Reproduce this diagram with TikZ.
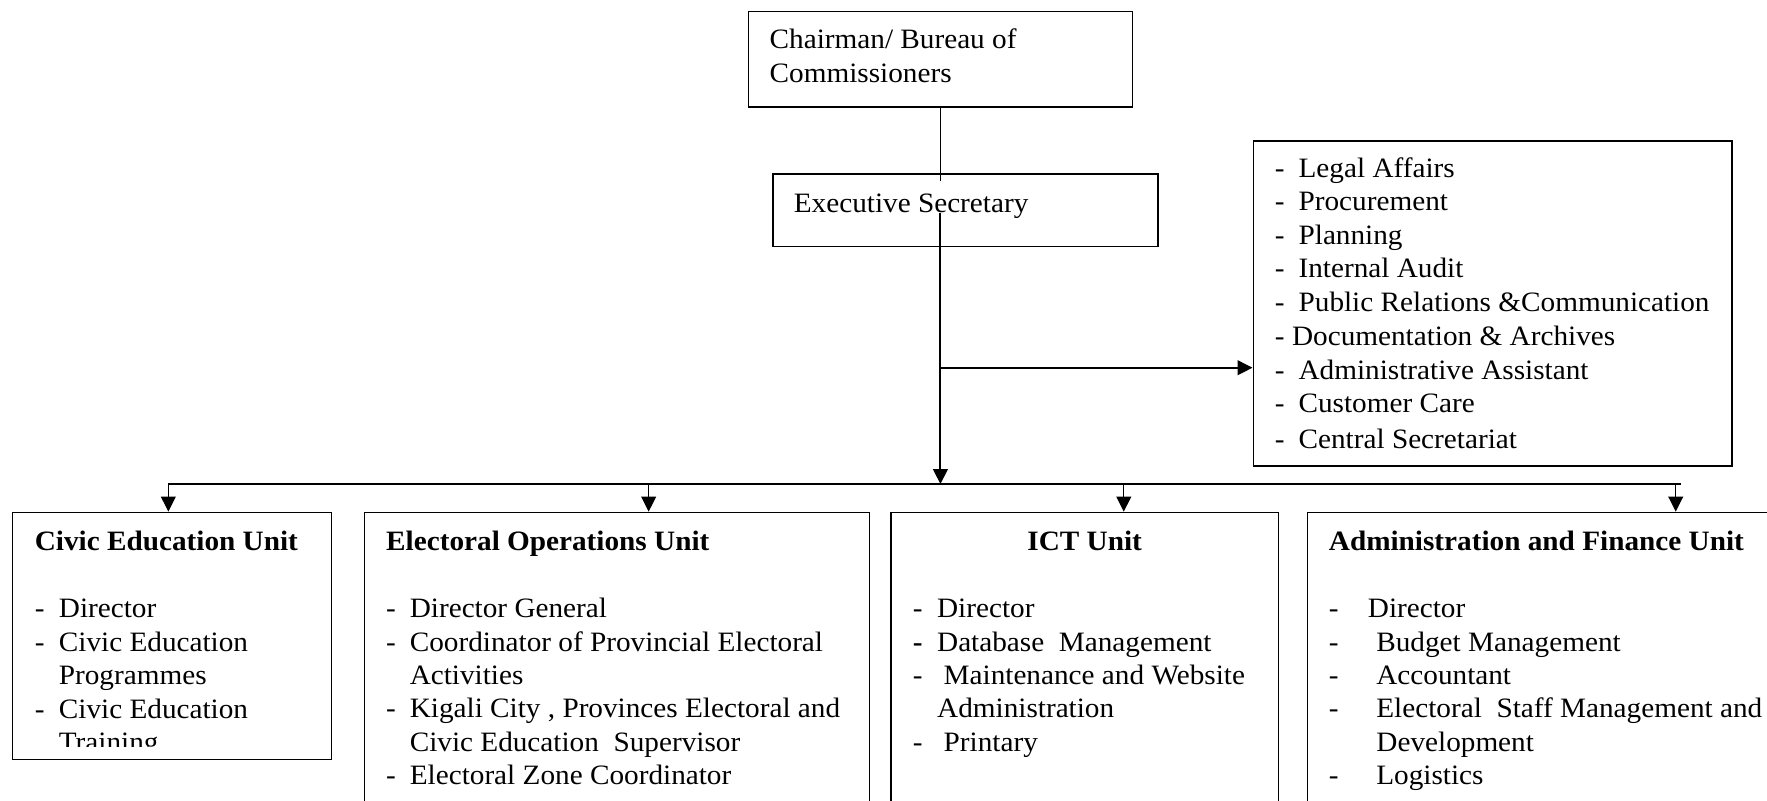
\documentclass[tikz,border=0pt]{standalone}
\usepackage{fontspec}
\setmainfont[FakeStretch=1.042]{Liberation Serif}
\usetikzlibrary{arrows.meta,fit}
\newcommand{\dsh}[2][-]{\makebox[#2][l]{#1}}

\tikzset{
	box/.style={draw, line width=0.55pt, inner sep=0pt},
	txt/.style={anchor=base west, inner sep=0pt},
	head/.style={txt, font=\fontsize{12}{14}\selectfont\bfseries},
	link/.style={line width=0.45pt},
	trunk/.style={line width=0.85pt},
	bus/.style={line width=0.55pt},
	tip/.style={-{Triangle[length=6.4pt,width=6.3pt]}}
}

\begin{document}
\begin{tikzpicture}[x=0.482pt, y=-0.482pt, font=\fontsize{12}{14}\selectfont]
			%%%%% START %%%%%
			\useasboundingbox (0,0) rectangle (1568,710);
			
			% top of the chart
			\node[box, fit={(664,10.4) (1005,95)}] (chair) {};
			\node[txt] (chair-1) at (682.6,42.9) {Chairman/ Bureau of};
			\node[txt] (chair-2) at (682.6,73.4) {Commissioners};
			
			\node[box, fit={(686,154.4) (1027.5,219)}] (exec) {};
			\node[txt] (exec-1) at (704,189) {Executive Secretary};
			
			\node[box, fit={(1112,125.1) (1537,413.5)}] (staff) {};
			\node[txt] (staff-1) at (1130.8,157.4) {\dsh{10.2pt}Legal Affairs};
			\node[txt] (staff-2) at (1130.8,187.2) {\dsh{10.2pt}Procurement};
			\node[txt] (staff-3) at (1130.8,216.8) {\dsh{10.2pt}Planning};
			\node[txt] (staff-4) at (1130.8,246.4) {\dsh{10.2pt}Internal Audit};
			\node[txt] (staff-5) at (1130.8,276.6) {\dsh{10.2pt}Public Relations \&Communication};
			\node[txt] (staff-6) at (1130.8,306.2) {\dsh{7.4pt}Documentation \& Archives};
			\node[txt] (staff-7) at (1130.8,336.6) {\dsh{10.2pt}Administrative Assistant};
			\node[txt] (staff-8) at (1130.8,366.2) {\dsh{10.2pt}Customer Care};
			\node[txt] (staff-9) at (1130.8,397.8) {\dsh{10.2pt}Central Secretariat};
			
			% the four units
			\node[box, fit={(11.2,454.6) (294.3,673.8)}] (civic) {};
			\node[head] (civic-0) at (30.5,488.7) {Civic Education Unit};
			\node[txt] (civic-1) at (30.5,547.8) {\dsh{10.3pt}Director};
			\node[txt] (civic-2) at (30.5,578) {\dsh{10.3pt}Civic Education};
			\node[txt] (civic-3) at (51.8,607.7) {Programmes};
			\node[txt] (civic-4) at (30.5,637.4) {\dsh{10.3pt}Civic Education};
			\begin{scope}
				\clip (11.2,454.6) rectangle (294.3,662.6);
				\node[txt] (civic-5) at (51.8,667.2) {Training};
			\end{scope}
			
			\node[box, fit={(323.3,454.6) (771.4,730)}] (elect) {};
			\node[head] (elect-0) at (342.3,488.7) {Electoral Operations Unit};
			\node[txt] (elect-1) at (342.3,547.8) {\dsh{10.1pt}Director General};
			\node[txt] (elect-2) at (342.3,578) {\dsh{10.1pt}Coordinator of Provincial Electoral};
			\node[txt] (elect-3) at (363.2,607.5) {Activities};
			\node[txt] (elect-4) at (342.3,637) {\dsh{10.1pt}Kigali City , Provinces Electoral and};
			\node[txt] (elect-5) at (363.2,666.5) {Civic Education \ Supervisor};
			\node[txt] (elect-6) at (342.3,696.5) {\dsh{10.1pt}Electoral Zone Coordinator};
			
			\node[box, fit={(790.7,454.6) (1134.4,730)}] (ict) {};
			\node[head, anchor=base] (ict-0) at (962.5,488.7) {ICT Unit};
			\node[txt] (ict-1) at (809.6,547.8) {\dsh{10.4pt}Director};
			\node[txt] (ict-2) at (809.6,578) {\dsh[\textbf{-}]{10.4pt}Database \ Management};
			\node[txt] (ict-3) at (809.6,607.5) {\dsh{13.2pt}Maintenance and Website};
			\node[txt] (ict-4) at (831.2,637) {Administration};
			\node[txt] (ict-5) at (809.6,667) {\dsh{13.2pt}Printary};
			
			\node[box, fit={(1160,454.6) (1600,730)}] (admin) {};
			\node[head] (admin-0) at (1178.8,488.7) {Administration and Finance Unit};
			\node[txt] (admin-1) at (1178.8,547.8) {\dsh{16.7pt}Director};
			\node[txt] (admin-2) at (1178.8,578) {\dsh{20.3pt}Budget Management};
			\node[txt] (admin-3) at (1178.8,607.5) {\dsh{20.3pt}Accountant};
			\node[txt] (admin-4) at (1178.8,637) {\dsh{20.3pt}Electoral \ Staff Management and};
			\node[txt] (admin-5) at (1221,666.5) {Development};
			\node[txt] (admin-6) at (1178.8,696.5) {\dsh{20.3pt}Logistics};
			
			% connectors
			\coordinate (es-in) at (834.5,161);
			\coordinate (es-out) at (834.5,189);
			\coordinate (fork) at (834.5,326.3);
			\coordinate (bus-c) at (834.5,429.5);
			\coordinate (bus-1) at (149.4,429.5);
			\coordinate (bus-2) at (575.6,429.5);
			\coordinate (bus-3) at (997.2,429.5);
			\coordinate (bus-4) at (1487,429.5);
			\coordinate (bus-e) at (1491.4,429.5);
			
			\draw[link] (chair.south) -- (es-in);
			\draw[trunk, tip] (es-out) -- (bus-c);
			\draw[trunk, tip] (fork) -- (fork -| staff.west);
			
			\draw[bus] (bus-1) -- (bus-e);
			\draw[bus, tip] (bus-1) -- (bus-1 |- civic.north);
			\draw[bus, tip] (bus-2) -- (bus-2 |- elect.north);
			\draw[bus, tip] (bus-3) -- (bus-3 |- ict.north);
			\draw[bus, tip] (bus-4) -- (bus-4 |- admin.north);
			%%%%% END %%%%%
\end{tikzpicture}
\end{document}
